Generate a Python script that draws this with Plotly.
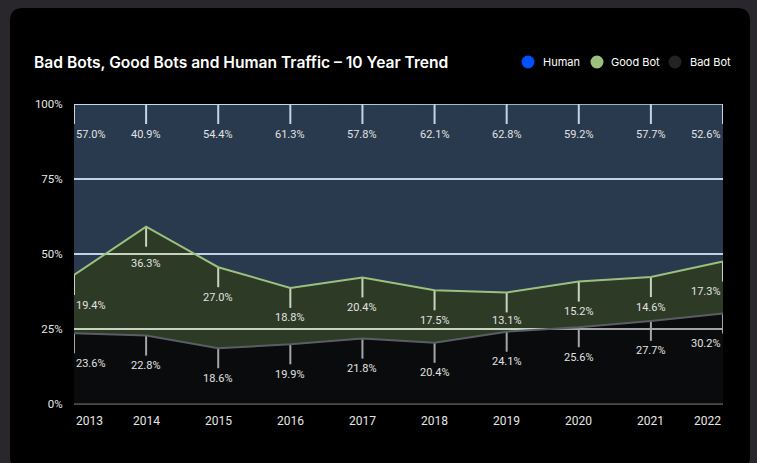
import plotly.graph_objects as go

years = [2013, 2014, 2015, 2016, 2017, 2018, 2019, 2020, 2021, 2022]
bad_bot = [23.6, 22.8, 18.6, 19.9, 21.8, 20.4, 24.1, 25.6, 27.7, 30.2]
good_bot = [19.4, 36.3, 27.0, 18.8, 20.4, 17.5, 13.1, 15.2, 14.6, 17.3]
human = [57.0, 40.9, 54.4, 61.3, 57.8, 62.1, 62.8, 59.2, 57.7, 52.6]
y_ticks = [0, 25, 50, 75, 100]
y_tick_text = ["0%", "25%", "50%", "75%", "100%"]

W, H = 757, 463
ML, MR, MT, MB = 74, 34, 104, 59
PW, PH = W - ML - MR, H - MT - MB
PX_PER_UNIT = PH / 100.0

def px_x(p):
    return (p - ML) / PW

def px_y(p):
    return (H - MB - p) / PH

fig = go.Figure()

series = [
    ("Bad Bot", bad_bot, "rgba(29,31,37,0.35)", "#5a5e64", "#232323"),
    ("Good Bot", good_bot, "rgba(129,166,109,0.35)", "#9cc17f", "#9cc17f"),
    ("Human", human, "rgba(117,166,223,0.35)", "#c9d8ea", "#0050ff"),
]

tops = []
cum = [0.0] * len(years)
for name, vals, fillc, linec, legc in series:
    cum = [c + v for c, v in zip(cum, vals)]
    tops.append((vals, list(cum)))
    fig.add_trace(go.Scatter(
        x=years, y=vals, name=name, stackgroup="one", mode="lines",
        line=dict(color=linec, width=2), fillcolor=fillc, showlegend=False,
        hoverinfo="skip",
    ))

shapes = []
annotations = []
n = len(years)
LABEL_OFFSET = 30  # px below the layer top
MIN_GAP = 9        # px clearance from grid lines
for vals, tp in tops:
    for i, (yr, v, t) in enumerate(zip(years, vals, tp)):
        t = min(t, 100)
        shapes.append(dict(
            type="line", xref="x", yref="y", ysizemode="pixel", yanchor=t,
            x0=yr, x1=yr, y0=0, y1=-20, layer="below",
            line=dict(color="#ededed", width=2),
        ))
        shift = -LABEL_OFFSET
        label_val = t - LABEL_OFFSET / PX_PER_UNIT
        for g in y_ticks[1:-1]:
            d = (label_val - g) * PX_PER_UNIT
            if abs(d) < MIN_GAP:
                if d < 0:
                    shift -= (MIN_GAP + d)
                else:
                    shift += (MIN_GAP - d)
        xa = "left" if i == 0 else ("right" if i == n - 1 else "center")
        annotations.append(dict(
            x=yr, y=t, xref="x", yref="y", yshift=shift, text=f"{v:.1f}%",
            showarrow=False, xanchor=xa, yanchor="middle",
            font=dict(family="Roboto", size=11, color="#e2e2e2"),
        ))

for i, yr in enumerate(years):
    xa = "left" if i == 0 else ("right" if i == n - 1 else "center")
    annotations.append(dict(
        x=yr, y=0, xref="x", yref="y", yshift=-17, text=str(yr),
        showarrow=False, xanchor=xa, yanchor="middle",
        font=dict(family="Roboto", size=12, color="#e6e6e6"),
    ))

# card background
x0, x1 = px_x(10), px_x(750)
y0, y1 = px_y(470), px_y(8)
rx, ry = 13 / PW, 13 / PH
card = (f"M {x0+rx},{y1} L {x1-rx},{y1} Q {x1},{y1} {x1},{y1-ry} "
        f"L {x1},{y0+ry} Q {x1},{y0} {x1-rx},{y0} L {x0+rx},{y0} "
        f"Q {x0},{y0} {x0},{y0+ry} L {x0},{y1-ry} Q {x0},{y1} {x0+rx},{y1} Z")
shapes.insert(0, dict(type="path", xref="paper", yref="paper", path=card,
                      fillcolor="#000000", line=dict(width=0), layer="below"))

# legend (custom, circle + label)
legend_items = [("Human", "#0050ff", 528, 542),
                ("Good Bot", "#9cc17f", 597, 610),
                ("Bad Bot", "#232323", 675, 689)]
LEG_Y = 62
for name, col, cx, tx in legend_items:
    shapes.append(dict(
        type="circle", xref="paper", yref="paper",
        xsizemode="pixel", ysizemode="pixel",
        xanchor=px_x(cx), yanchor=px_y(LEG_Y),
        x0=-6.5, x1=6.5, y0=-6.5, y1=6.5,
        fillcolor=col, line=dict(width=0), layer="above",
    ))
    annotations.append(dict(
        x=px_x(tx), y=px_y(LEG_Y), xref="paper", yref="paper",
        text=name, showarrow=False, xanchor="left", yanchor="middle",
        font=dict(family="Inter", size=11, color="#ffffff"),
        borderpad=0,
    ))

fig.update_layout(
    width=W, height=H,
    margin=dict(l=ML, r=MR, t=MT, b=MB),
    paper_bgcolor="#29272c",
    plot_bgcolor="rgba(0,0,0,0)",
    showlegend=False,
    title=dict(
        text="Bad Bots, Good Bots and Human Traffic – 10 Year Trend",
        font=dict(family="Inter", size=15.6, color="#ffffff", weight=600),
        xref="container", x=34 / W, xanchor="left",
        yref="container", y=1 - 63 / H, yanchor="middle",
    ),
    xaxis=dict(
        range=[years[0], years[-1]], showgrid=False, zeroline=False,
        showticklabels=False, showline=False, fixedrange=True,
    ),
    yaxis=dict(
        range=[0, 100], tickmode="array", tickvals=y_ticks, ticktext=y_tick_text,
        showgrid=True, gridcolor="#ececec", gridwidth=2,
        zeroline=True, zerolinecolor="#4a4a4a", zerolinewidth=2,
        ticks="outside", ticklen=8, tickcolor="rgba(0,0,0,0)",
        tickfont=dict(family="Roboto", size=11.5, color="#e6e6e6"),
        showline=False, fixedrange=True,
    ),
    shapes=shapes,
    annotations=annotations,
    hovermode=False,
)

fig.write_html("out.html")
